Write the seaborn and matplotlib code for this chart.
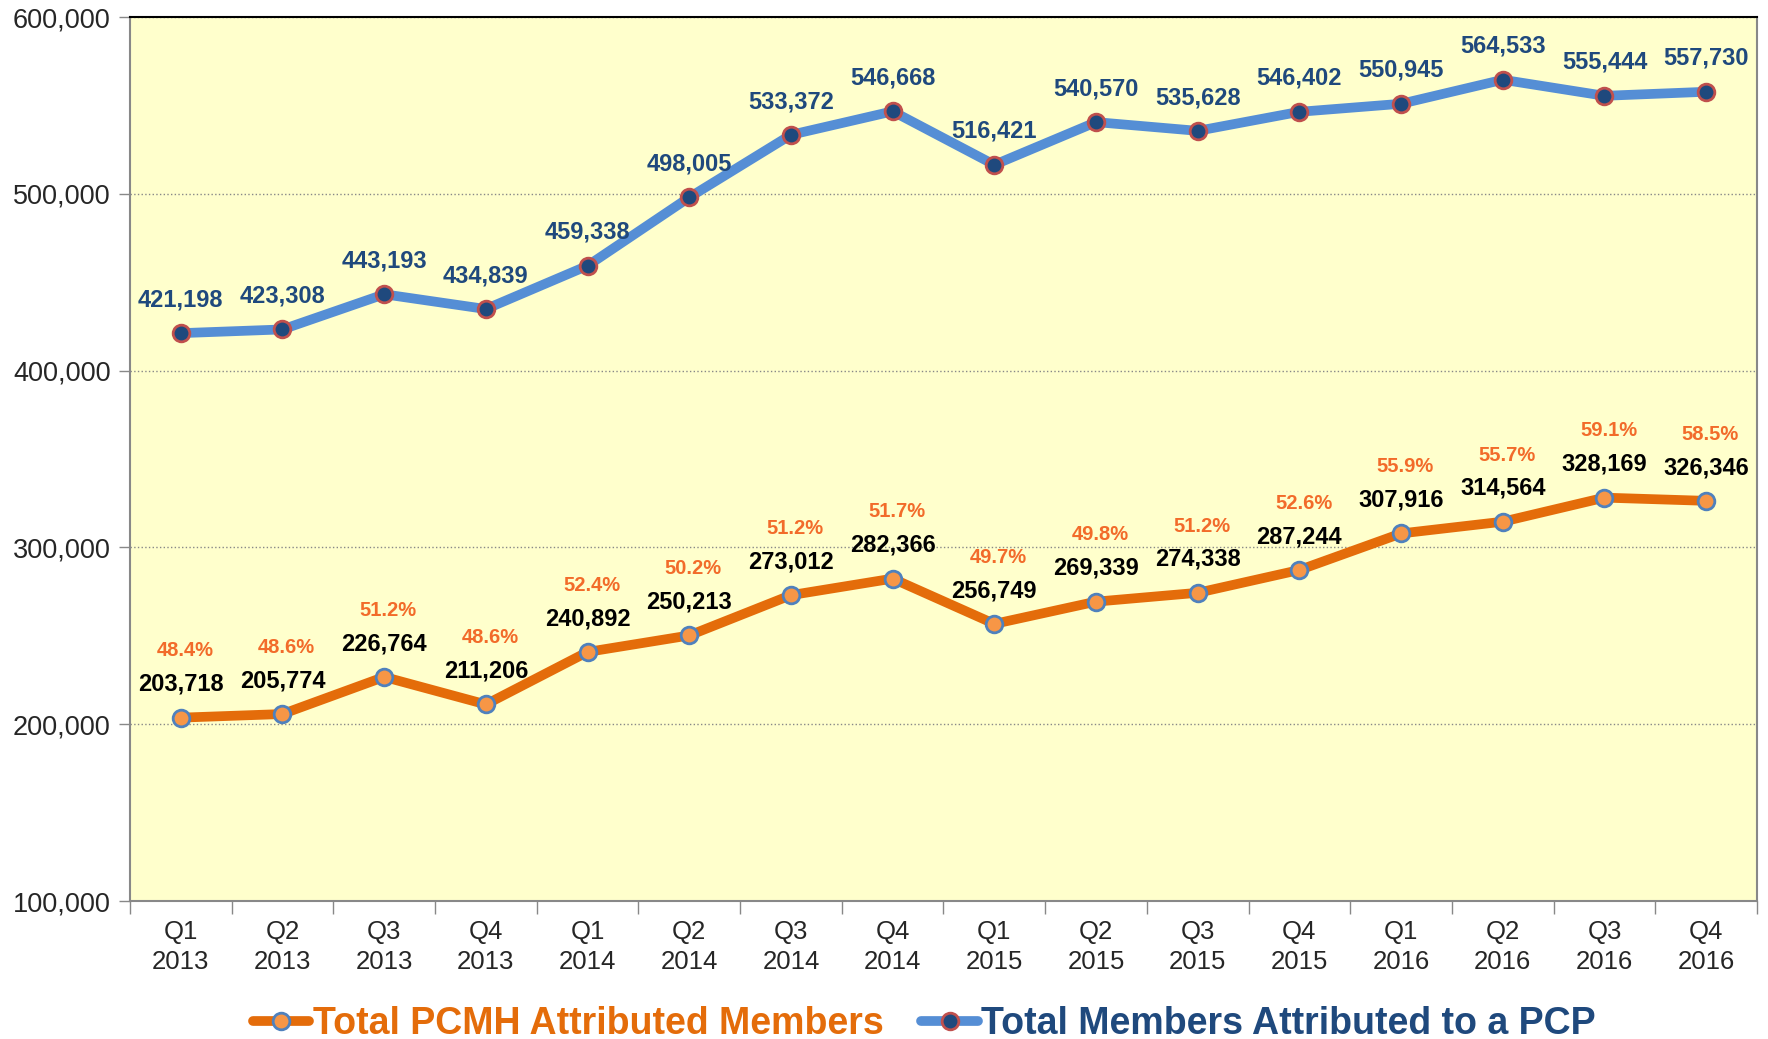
import pandas as pd
import seaborn as sns
import numpy as np
import matplotlib.pyplot as plt
from matplotlib.ticker import FuncFormatter, FixedLocator

# data
quarters = ['Q1\n2013', 'Q2\n2013', 'Q3\n2013', 'Q4\n2013',
            'Q1\n2014', 'Q2\n2014', 'Q3\n2014', 'Q4\n2014',
            'Q1\n2015', 'Q2\n2015', 'Q3\n2015', 'Q4\n2015',
            'Q1\n2016', 'Q2\n2016', 'Q3\n2016', 'Q4\n2016']
pcp_members = [421198, 423308, 443193, 434839, 459338, 498005, 533372, 546668,
               516421, 540570, 535628, 546402, 550945, 564533, 555444, 557730]
pcmh_members = [203718, 205774, 226764, 211206, 240892, 250213, 273012, 282366,
                256749, 269339, 274338, 287244, 307916, 314564, 328169, 326346]
pcmh_pct = ['48.4%', '48.6%', '51.2%', '48.6%', '52.4%', '50.2%', '51.2%', '51.7%',
            '49.7%', '49.8%', '51.2%', '52.6%', '55.9%', '55.7%', '59.1%', '58.5%']

df = pd.DataFrame({'pos': np.arange(len(quarters)),
                   'pcp': pcp_members,
                   'pcmh': pcmh_members})

sns.set_theme(style='white')
plt.rcParams['font.family'] = ['Liberation Sans', 'DejaVu Sans']

orange = '#E46C0A'
blue = '#558ED5'
navy = '#1F497D'

fig, ax = plt.subplots(figsize=(17.68, 10.39), dpi=100)
fig.subplots_adjust(left=0.0735, right=0.9938, top=0.9836, bottom=0.1328)
ax.set_facecolor('#FFFFCC')

sns.lineplot(data=df, x='pos', y='pcmh', ax=ax, color=orange, linewidth=7,
             marker='o', markersize=12, markerfacecolor='#F79646',
             markeredgecolor='#4F81BD', markeredgewidth=2,
             label='Total PCMH Attributed Members', zorder=3)
sns.lineplot(data=df, x='pos', y='pcp', ax=ax, color=blue, linewidth=7,
             marker='o', markersize=12, markerfacecolor=navy,
             markeredgecolor='#C0504D', markeredgewidth=2,
             label='Total Members Attributed to a PCP', zorder=3)

# point labels
for i in range(len(quarters)):
    ax.annotate(f'{pcp_members[i]:,}', (i, pcp_members[i]), xytext=(0, 24),
                textcoords='offset points', ha='center', va='center',
                fontsize=17, fontweight='bold', color=navy)
    ax.annotate(f'{pcmh_members[i]:,}', (i, pcmh_members[i]), xytext=(0, 24),
                textcoords='offset points', ha='center', va='center',
                fontsize=17, fontweight='bold', color='black')
    ax.annotate(pcmh_pct[i], (i, pcmh_members[i]), xytext=(3, 48),
                textcoords='offset points', ha='center', va='center',
                fontsize=14.5, fontweight='bold', color='#F26B2A')

# axes
ax.set_xlim(-0.5, len(quarters) - 0.5)
ax.set_ylim(100000, 600000)
ax.set_yticks(np.arange(100000, 600001, 100000))
ax.yaxis.set_major_formatter(FuncFormatter(lambda v, p: f'{int(v):,}'))
ax.set_xticks(np.arange(len(quarters)))
ax.set_xticklabels(quarters, fontsize=18.5, linespacing=1.3)
ax.xaxis.set_minor_locator(FixedLocator(np.arange(-0.5, len(quarters), 1)))
ax.tick_params(axis='x', which='major', length=0, pad=14)
ax.tick_params(axis='x', which='minor', length=9, width=1, color='#888888',
               direction='out', bottom=True)
ax.tick_params(axis='y', labelsize=19.5, length=8, width=1, color='#888888',
               direction='out', left=True, pad=6)
ax.set_xlabel('')
ax.set_ylabel('')
ax.grid(axis='y', linestyle=':', color='#888888', linewidth=1)

for side in ['left', 'bottom', 'right']:
    ax.spines[side].set_color('#888888')
    ax.spines[side].set_linewidth(1.5)
ax.spines['top'].set_color('black')
ax.spines['top'].set_linewidth(1.5)

# legend
leg = ax.legend(loc='center', bbox_to_anchor=(0.523, 0.014),
                bbox_transform=fig.transFigure, ncol=2, frameon=False,
                handlelength=1.5, handletextpad=0.1,
                columnspacing=1.0, prop={'weight': 'bold', 'size': 27})
for txt, col in zip(leg.get_texts(), [orange, navy]):
    txt.set_color(col)

fig.savefig('out.png', dpi=100)
